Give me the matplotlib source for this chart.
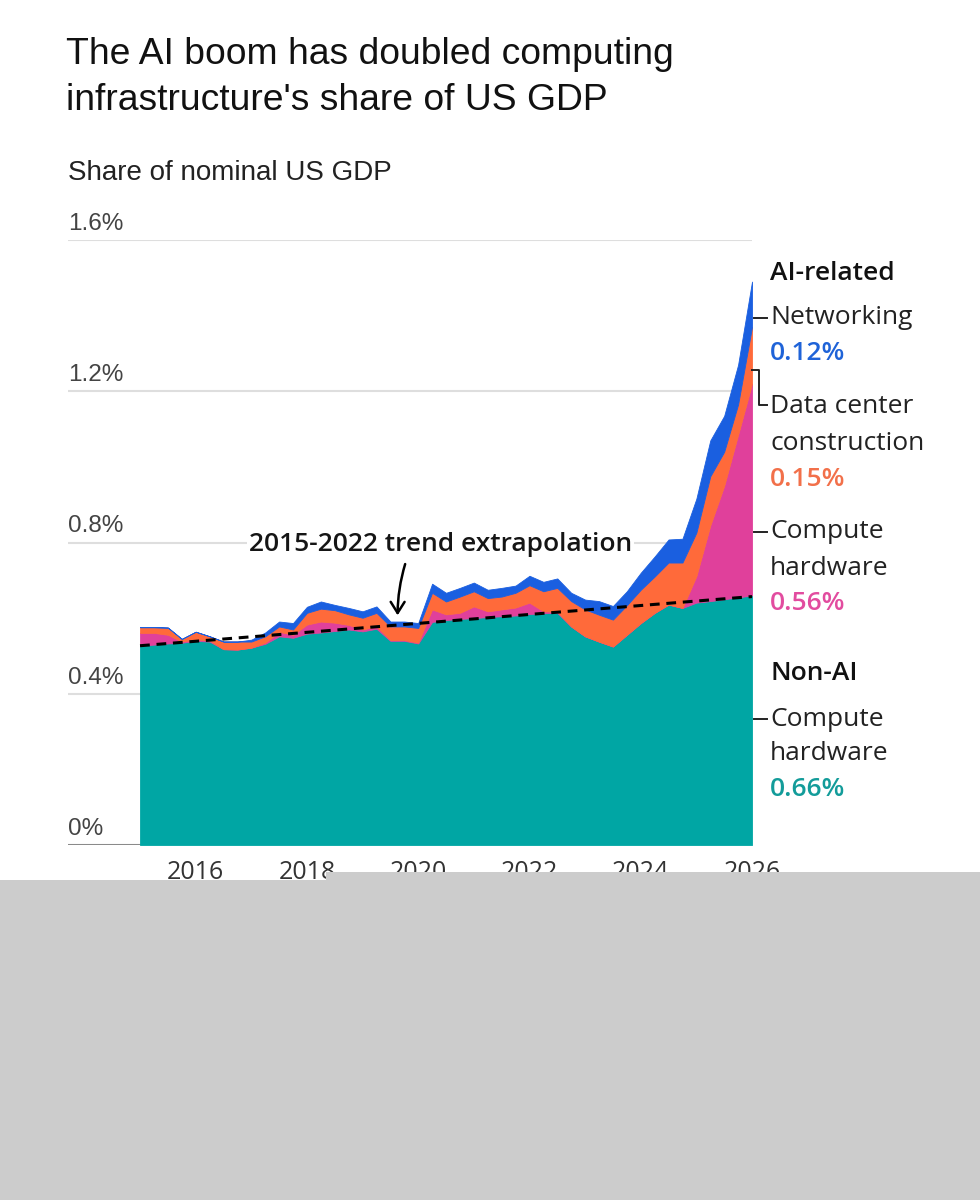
import numpy as np
import matplotlib
matplotlib.use("Agg")
import matplotlib.pyplot as plt
from matplotlib.patches import Rectangle
from matplotlib.lines import Line2D
from matplotlib import transforms

plt.rcParams['font.family'] = ['Open Sans', 'DejaVu Sans']

# quarterly, 2015Q1 .. 2026Q1, share of nominal US GDP (%)
quarters = 2015 + np.arange(45) / 4

non_ai_compute = [0.527, 0.530, 0.533, 0.535, 0.540, 0.538, 0.518, 0.517, 0.522, 0.532,
                  0.552, 0.548, 0.559, 0.562, 0.566, 0.570, 0.565, 0.572, 0.540, 0.540,
                  0.533, 0.590, 0.595, 0.598, 0.600, 0.603, 0.605, 0.607, 0.611, 0.613,
                  0.614, 0.578, 0.552, 0.538, 0.525, 0.556, 0.587, 0.614, 0.636, 0.627,
                  0.641, 0.645, 0.650, 0.655, 0.660]
ai_compute = [0.034, 0.031, 0.023, 0.003, 0.004, 0.003, 0.0, 0.0, 0.0, 0.003,
              0.012, 0.008, 0.024, 0.029, 0.022, 0.012, 0.005, 0.006, 0.002, 0.002,
              0.002, 0.033, 0.015, 0.016, 0.031, 0.015, 0.018, 0.021, 0.030, 0.005,
              0.003, 0.0, 0.0, 0.0, 0.0, 0.0, 0.0, 0.0, 0.0, 0.0,
              0.070, 0.200, 0.300, 0.430, 0.560]
data_center = [0.015, 0.015, 0.019, 0.007, 0.020, 0.011, 0.020, 0.021, 0.016, 0.017,
               0.014, 0.014, 0.031, 0.034, 0.033, 0.028, 0.031, 0.036, 0.036, 0.036,
               0.039, 0.044, 0.034, 0.043, 0.040, 0.035, 0.034, 0.039, 0.046, 0.053,
               0.063, 0.067, 0.071, 0.071, 0.071, 0.078, 0.088, 0.096, 0.111, 0.120,
               0.115, 0.130, 0.090, 0.080, 0.150]
networking = [0.0, 0.0, 0.0, 0.0, 0.0, 0.0, 0.0, 0.0, 0.005, 0.010,
              0.013, 0.017, 0.016, 0.019, 0.014, 0.017, 0.017, 0.017, 0.013, 0.013,
              0.013, 0.024, 0.023, 0.023, 0.023, 0.022, 0.023, 0.019, 0.025, 0.025,
              0.025, 0.022, 0.026, 0.036, 0.036, 0.037, 0.045, 0.053, 0.061, 0.063,
              0.090, 0.095, 0.095, 0.105, 0.120]

trend_years = [2015, 2026]
trend_vals = [0.527, 0.657]

y_ticks = [0, 0.4, 0.8, 1.2, 1.6]
y_labels = ['0%', '0.4%', '0.8%', '1.2%', '1.6%']
x_ticks = [2016, 2018, 2020, 2022, 2024, 2026]

TEAL = '#00A6A4'
PINK = '#E0409B'
ORANGE = '#FF6A3A'
BLUE = '#1A5FE0'

W, H = 980, 1200
fig = plt.figure(figsize=(W / 100, H / 100), dpi=100)
fig.patch.set_facecolor('white')


def fx(px):
    return px / W


def fy(py):
    return 1 - py / H


ax = fig.add_axes([fx(68), fy(845), fx(752) - fx(68), fy(240) - fy(845)])
ax.set_xlim(2015 - 72 / 55.6, 2026)
ax.set_ylim(0, 1.6)

for v in y_ticks[1:]:
    ax.axhline(v, color='#dedede', lw=1.5, zorder=0)
ax.axhline(0, color='#8a8a8a', lw=2.2, zorder=0)

ax.stackplot(quarters, non_ai_compute, ai_compute, data_center, networking,
             colors=[TEAL, PINK, ORANGE, BLUE], edgecolor='face', linewidth=0.6,
             zorder=2)

ax.plot(trend_years, trend_vals, color='black', lw=2.2, ls=(0, (3.2, 2.2)), zorder=3)

for spine in ax.spines.values():
    spine.set_visible(False)
ax.set_yticks([])
ax.set_xticks(x_ticks)
ax.set_xticklabels([str(t) for t in x_ticks], fontsize=18, color='#333333')
ax.tick_params(axis='x', length=0, pad=10.5)

# y labels sit above their grid lines, left aligned
trans = transforms.offset_copy(ax.get_yaxis_transform(), fig=fig, x=0, y=5, units='dots')
for v, lab in zip(y_ticks, y_labels):
    ax.text(0, v, lab, transform=trans, ha='left', va='bottom', fontsize=17.5,
            color='#444444', family=['Liberation Sans', 'DejaVu Sans'])

# annotation
ax.text(2020.4, 0.795, '2015-2022 trend extrapolation', ha='center', va='center',
        fontsize=19, fontweight='semibold', color='#151515', zorder=4,
        bbox=dict(facecolor='white', edgecolor='none', pad=1.5))
ax.annotate('', xy=(2019.63, 0.60), xytext=(2019.78, 0.75),
            arrowprops=dict(arrowstyle='->,head_length=0.8,head_width=0.5',
                            color='black', lw=1.8,
                            connectionstyle='arc3,rad=0.08'), zorder=4)

# title block
tfam = ['Liberation Sans', 'DejaVu Sans']
fig.text(fx(66), fy(54), 'The AI boom has doubled computing', fontsize=26.8,
         va='center', ha='left', color='#111111', family=tfam)
fig.text(fx(66), fy(100), "infrastructure's share of US GDP", fontsize=26.8,
         va='center', ha='left', color='#111111', family=tfam)
fig.text(fx(68), fy(173), 'Share of nominal US GDP', fontsize=20,
         va='center', ha='left', color='#222222', family=tfam)

# right hand labels
lx = fx(770)
labels = [
    (273, 'AI-related', '#111111', 'semibold'),
    (318, 'Networking', '#222222', 'normal'),
    (353, '0.12%', '#1F63D8', 'semibold'),
    (407, 'Data center', '#222222', 'normal'),
    (443, 'construction', '#222222', 'normal'),
    (479, '0.15%', '#F2704A', 'semibold'),
    (532, 'Compute', '#222222', 'normal'),
    (568, 'hardware', '#222222', 'normal'),
    (604, '0.56%', '#E24C9F', 'semibold'),
    (673, 'Non-AI', '#111111', 'semibold'),
    (719, 'Compute', '#222222', 'normal'),
    (754, 'hardware', '#222222', 'normal'),
    (790, '0.66%', '#139C9A', 'semibold'),
]
for py, txt, col, wt in labels:
    fig.text(lx, fy(py), txt, fontsize=19, color=col, fontweight=wt,
             ha='left', va='center')

for py in [318, 532, 719]:
    fig.add_artist(Line2D([fx(754), fx(767)], [fy(py), fy(py)], color='#222222',
                          lw=1.4, transform=fig.transFigure))
fig.add_artist(Line2D([fx(752), fx(759), fx(759), fx(767)],
                      [fy(370), fy(370), fy(405), fy(405)], color='#222222',
                      lw=1.4, transform=fig.transFigure))

# grey band over the bottom of the screenshot
fig.add_artist(Rectangle((0, 0), 1, fy(880), transform=fig.transFigure,
                         facecolor='#cccccc', edgecolor='none', zorder=10))
fig.add_artist(Rectangle((fx(326), fy(881)), 1 - fx(326), fy(872) - fy(881),
                         transform=fig.transFigure, facecolor='#cccccc',
                         edgecolor='none', zorder=10))

fig.savefig('out.png', dpi=100)
